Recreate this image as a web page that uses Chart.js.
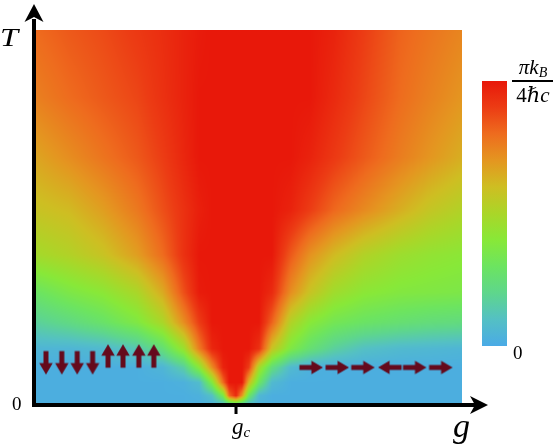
<!DOCTYPE html>
<html>
<head>
<meta charset="utf-8">
<script src="https://cdn.jsdelivr.net/npm/chart.js@4.4.1/dist/chart.umd.min.js"></script>
<style>
html, body { margin: 0; padding: 0; background: #fff; }
#wrap { position: relative; width: 554px; height: 444px; overflow: hidden; }
#wrap canvas { position: absolute; left: 0; top: 0; }
.lbl { position: absolute; font-family: "Liberation Serif", "Times New Roman", "DejaVu Serif", serif; color: #000; line-height: 1; white-space: nowrap; }
.it { font-style: italic; }
</style>
</head>
<body>
<div id="wrap">
  <canvas id="c" width="554" height="444"></canvas>
  <span class="lbl it" style="left:0px;top:25px;font-size:26px;transform:scaleX(1.25);transform-origin:left top">T</span>
  <span class="lbl" id="yZero" style="left:12px;font-size:19px">0</span>
  <span class="lbl it" id="gcLabel" style="top:415px;font-size:23px">g<sub style="font-size:15px;vertical-align:-3px">c</sub></span>
  <span class="lbl it" style="left:453px;top:409px;font-size:34px">g</span>
  <span class="lbl it" style="left:510px;top:57px;width:46px;text-align:center;font-size:21px">&pi;k<sub style="font-size:14px;vertical-align:-3px">B</sub></span>
  <div style="position:absolute;left:512px;top:80px;width:41px;height:1.5px;background:#000"></div>
  <span class="lbl" style="left:510px;top:85px;width:46px;text-align:center;font-size:21px">4<span class="it">&#8463;c</span></span>
  <span class="lbl" style="left:513px;top:343px;font-size:19px">0</span>
</div>
<script>
// grid of the field: g columns (image spans 0..1), T rows (0..1)
const gCols = [0, 0.082, 0.161, 0.241, 0.301, 0.350, 0.386, 0.416, 0.442, 0.456, 0.472,
               0.486, 0.502, 0.526, 0.556, 0.600, 0.645, 0.701, 0.771, 0.855, 0.925, 1];
const tRows = [0, 0.025, 0.06, 0.1, 0.15, 0.22, 0.3, 0.4, 0.52, 0.66, 0.82, 1];
// value (0 .. pi kB / 4 hbar c) per row, bottom row first
const fieldRows = [
  [.02,.02,.02,.02,.02,.02,.02,.03,.06,.12,.18,.12,.06,.03,.02,.02,.02,.02,.02,.02,.02,.02],
  [.02,.02,.02,.02,.02,.02,.03,.10,.35,.80,.95,.70,.30,.06,.02,.02,.02,.02,.02,.02,.02,.02],
  [.02,.02,.02,.02,.02,.03,.08,.38,.80,1,1,1,.62,.30,.07,.02,.02,.02,.02,.02,.02,.02],
  [.02,.02,.02,.02,.05,.16,.40,.72,.97,1,1,1,.90,.48,.24,.07,.03,.02,.02,.02,.02,.02],
  [.05,.05,.07,.13,.25,.45,.76,.96,1,1,1,1,1,.93,.58,.37,.26,.17,.10,.07,.06,.05],
  [.17,.22,.28,.37,.50,.72,.90,1,1,1,1,1,1,1,.82,.52,.40,.33,.29,.26,.24,.23],
  [.29,.36,.41,.50,.65,.86,.99,1,1,1,1,1,1,1,.95,.72,.58,.47,.41,.38,.37,.36],
  [.48,.52,.58,.68,.80,.93,1,1,1,1,1,1,1,1,1,.84,.71,.61,.52,.46,.43,.41],
  [.58,.61,.68,.77,.86,.93,.98,1,1,1,1,1,1,1,1,.97,.90,.81,.73,.64,.57,.52],
  [.66,.72,.78,.84,.90,.96,1,1,1,1,1,1,1,1,1,1,.97,.91,.84,.76,.70,.64],
  [.75,.80,.84,.88,.93,.97,1,1,1,1,1,1,1,1,1,1,1,.95,.88,.80,.75,.70],
  [.80,.84,.87,.91,.94,.97,.99,1,1,1,1,1,1,1,1,1,1,.97,.90,.82,.78,.74]
];
const gcValue = 0.472;

// spin arrows: position and direction (degrees, 0 = pointing right)
const leftSpinG = [0.028, 0.065, 0.101, 0.137, 0.173, 0.208, 0.245, 0.280];
const leftSpinT = [0.113, 0.113, 0.113, 0.113, 0.130, 0.130, 0.130, 0.130];
const leftSpinDir = [90, 90, 90, 90, -90, -90, -90, -90];
const rightSpinG = [0.647, 0.708, 0.768, 0.832, 0.889, 0.950];
const rightSpinT = [0.100, 0.100, 0.100, 0.100, 0.100, 0.100];
const rightSpinDir = [0, 0, 0, 180, 0, 0];

const colourStops = [
  [0, [74, 170, 230]], [0.1, [84, 192, 196]], [0.2, [94, 214, 140]], [0.3, [108, 228, 96]],
  [0.4, [136, 232, 56]], [0.5, [170, 214, 40]], [0.6, [206, 190, 34]], [0.7, [228, 150, 32]],
  [0.8, [238, 108, 30]], [0.9, [236, 60, 20]], [1, [232, 24, 10]]
];

function colourAt(v) {
  v = Math.max(0, Math.min(1, v));
  for (let i = 0; i < colourStops.length - 1; i++) {
    const [a, ca] = colourStops[i], [b, cb] = colourStops[i + 1];
    if (v <= b) {
      const f = (v - a) / (b - a);
      return [0, 1, 2].map(k => ca[k] + (cb[k] - ca[k]) * f);
    }
  }
  return colourStops[colourStops.length - 1][1];
}

function locate(arr, v) {
  const n = arr.length - 1;
  if (v <= arr[0]) return [0, 0];
  if (v >= arr[n]) return [n - 1, 1];
  let k = 0;
  while (arr[k + 1] < v) k++;
  return [k, (v - arr[k]) / (arr[k + 1] - arr[k])];
}

function arrowSprite() {
  const c = document.createElement('canvas');
  c.width = 26; c.height = 26;
  const g = c.getContext('2d');
  g.fillStyle = '#650a1c';
  g.fillRect(1.5, 10.5, 14, 5);
  g.beginPath();
  g.moveTo(25, 13); g.lineTo(13.5, 6.3); g.lineTo(13.5, 19.7); g.closePath();
  g.fill();
  return c;
}
const sprite = arrowSprite();

const heatmap = {
  id: 'heatmap',
  beforeDatasetsDraw(chart) {
    const { ctx, scales: { x, y } } = chart;
    const x0 = Math.round(x.getPixelForValue(gCols[0]));
    const x1 = Math.round(x.getPixelForValue(gCols[gCols.length - 1]));
    const y0 = Math.round(y.getPixelForValue(tRows[tRows.length - 1]));
    const y1 = Math.round(y.getPixelForValue(tRows[0]));
    const w = x1 - x0, h = y1 - y0;
    const off = document.createElement('canvas');
    off.width = w; off.height = h;
    const octx = off.getContext('2d');
    const img = octx.createImageData(w, h);
    for (let j = 0; j < h; j++) {
      const [r, fy] = locate(tRows, y.getValueForPixel(y0 + j + 0.5));
      for (let i = 0; i < w; i++) {
        const [c, fx] = locate(gCols, x.getValueForPixel(x0 + i + 0.5));
        const lo = fieldRows[r][c] * (1 - fx) + fieldRows[r][c + 1] * fx;
        const hi = fieldRows[r + 1][c] * (1 - fx) + fieldRows[r + 1][c + 1] * fx;
        const col = colourAt(lo * (1 - fy) + hi * fy);
        const p = (j * w + i) * 4;
        img.data[p] = col[0]; img.data[p + 1] = col[1]; img.data[p + 2] = col[2]; img.data[p + 3] = 255;
      }
    }
    octx.putImageData(img, 0, 0);
    ctx.drawImage(off, x0, y0);

    // colour bar
    const grad = ctx.createLinearGradient(0, 346, 0, 81);
    colourStops.forEach(([s, c]) => grad.addColorStop(s, `rgb(${c[0]},${c[1]},${c[2]})`));
    ctx.fillStyle = grad;
    ctx.fillRect(482, 81, 25, 265);
  }
};

const axesArrows = {
  id: 'axesArrows',
  afterDatasetsDraw(chart) {
    const { ctx, chartArea: a, scales: { x } } = chart;
    ctx.save();
    ctx.fillStyle = '#000';
    ctx.strokeStyle = '#000';
    ctx.lineWidth = 4;
    ctx.beginPath();
    ctx.moveTo(a.left, a.bottom + 2); ctx.lineTo(a.left, a.top + 14);
    ctx.moveTo(a.left - 2, a.bottom); ctx.lineTo(a.right - 14, a.bottom);
    ctx.stroke();
    ctx.beginPath();
    ctx.moveTo(a.left, a.top - 1); ctx.lineTo(a.left + 9.5, a.top + 17);
    ctx.lineTo(a.left, a.top + 12); ctx.lineTo(a.left - 9.5, a.top + 17); ctx.closePath();
    ctx.fill();
    ctx.beginPath();
    ctx.moveTo(a.right - 2, a.bottom); ctx.lineTo(a.right - 20, a.bottom - 9);
    ctx.lineTo(a.right - 15, a.bottom); ctx.lineTo(a.right - 20, a.bottom + 9); ctx.closePath();
    ctx.fill();
    const gx = x.getPixelForValue(gcValue);
    ctx.fillRect(gx - 1.5, a.bottom + 2, 3, 7);
    ctx.restore();
  }
};

const chart = new Chart(document.getElementById('c'), {
  type: 'scatter',
  data: {
    datasets: [
      { data: leftSpinG.map((g, i) => ({ x: g, y: leftSpinT[i] })), rotation: leftSpinDir },
      { data: rightSpinG.map((g, i) => ({ x: g, y: rightSpinT[i] })), rotation: rightSpinDir }
    ]
  },
  options: {
    responsive: false,
    animation: false,
    events: [],
    layout: { padding: { left: 34, right: 64, top: 2, bottom: 39 } },
    elements: { point: { pointStyle: sprite } },
    plugins: { legend: { display: false }, tooltip: { enabled: false } },
    scales: {
      x: { type: 'linear', min: 0, max: 456 / 428, display: false },
      y: { type: 'linear', min: 0, max: 403 / 378, display: false }
    }
  },
  plugins: [heatmap, axesArrows]
});

document.getElementById('gcLabel').style.left = (chart.scales.x.getPixelForValue(gcValue) - 4) + 'px';
document.getElementById('yZero').style.top = (chart.scales.y.getPixelForValue(0) - 11) + 'px';
</script>
</body>
</html>
